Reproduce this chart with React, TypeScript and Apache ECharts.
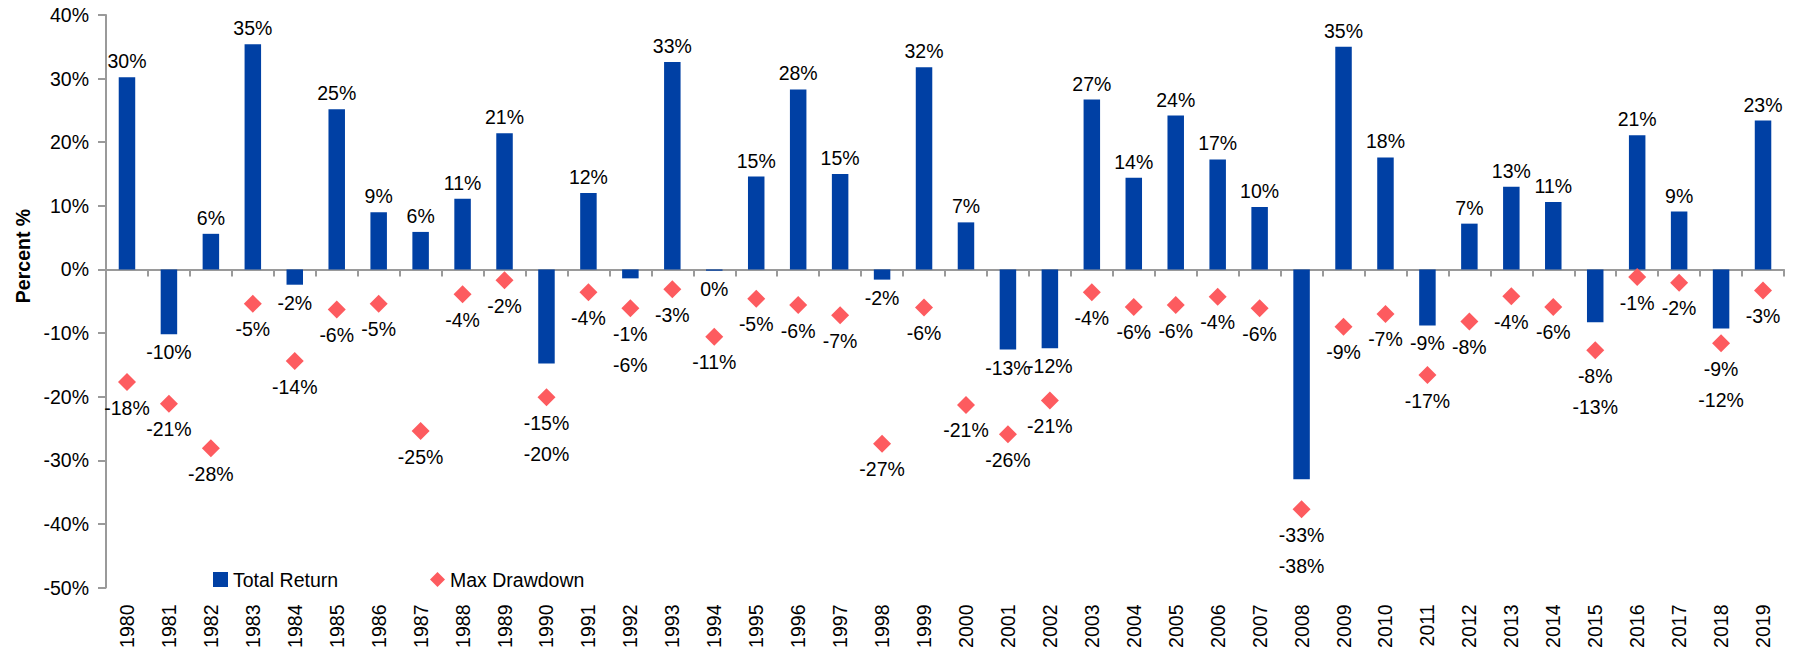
import React, { useEffect, useRef } from "react";
import * as echarts from "echarts";

const years = [
  "1980", "1981", "1982", "1983", "1984", "1985", "1986", "1987", "1988", "1989",
  "1990", "1991", "1992", "1993", "1994", "1995", "1996", "1997", "1998", "1999",
  "2000", "2001", "2002", "2003", "2004", "2005", "2006", "2007", "2008", "2009",
  "2010", "2011", "2012", "2013", "2014", "2015", "2016", "2017", "2018", "2019",
];

const totalReturn = [
  30.2, -10.2, 5.6, 35.4, -2.4, 25.2, 9.0, 5.9, 11.1, 21.4,
  -14.8, 12.0, -1.4, 32.6, -0.2, 14.6, 28.3, 15.0, -1.6, 31.8,
  7.4, -12.6, -12.4, 26.7, 14.4, 24.2, 17.3, 9.8, -33.0, 35.0,
  17.6, -8.8, 7.2, 13.0, 10.6, -8.3, 21.1, 9.1, -9.3, 23.4,
];

const maxDrawdown = [
  -17.7, -21.1, -28.1, -5.4, -14.4, -6.3, -5.4, -25.4, -3.9, -1.7,
  -20.1, -3.6, -6.1, -3.1, -10.6, -4.6, -5.6, -7.2, -27.4, -6.0,
  -21.3, -25.9, -20.6, -3.6, -5.9, -5.6, -4.3, -6.1, -37.7, -9.0,
  -7.0, -16.6, -8.2, -4.2, -5.9, -12.7, -1.2, -2.1, -11.6, -3.3,
];

const yTicks = { min: -50, max: 40, interval: 10 };

const FONT = "'Liberation Sans', Arial, sans-serif";
const FS = 19.5;
const BLUE = "#0040a4";
const RED = "#fd5b5f";
const TXT = "#000000";
const AXIS = "#9a9a9a";

const fmt = (v: number) => `${Math.round(v)}%`;
// when the drawdown marker sits right below a negative bar, the bar's label is stacked under the marker
const stacked = (i: number) => totalReturn[i] < 0 && totalReturn[i] - maxDrawdown[i] < 6;

export default function App() {
  const ref = useRef<HTMLDivElement>(null);

  useEffect(() => {
    if (!ref.current) return;
    const chart = echarts.init(ref.current, null, { renderer: "svg" });

    const barData = totalReturn.map((v, i) => ({
      value: v,
      label: {
        show: !stacked(i),
        position: v >= 0 ? "top" : "bottom",
        distance: v >= 0 ? 6 : 8,
      },
    }));

    const labelBase = {
      fontSize: FS,
      color: TXT,
      fontFamily: FONT,
      textBorderWidth: 0,
      opacity: 1,
    };

    chart.setOption({
      animation: false,
      textStyle: { fontFamily: FONT },
      grid: { left: 106, right: 12, top: 15, bottom: 72.5, containLabel: false },
      legend: [
        {
          data: [{ name: "Total Return", icon: "rect" }],
          left: 208,
          top: 564.5,
          itemWidth: 15,
          itemHeight: 15,
          textStyle: { fontSize: FS, color: TXT, fontFamily: FONT, lineHeight: 15 },
        },
        {
          data: [{ name: "Max Drawdown", icon: "diamond" }],
          left: 425,
          top: 564.5,
          itemWidth: 15,
          itemHeight: 15,
          textStyle: { fontSize: FS, color: TXT, fontFamily: FONT, lineHeight: 15 },
        },
      ],
      xAxis: [
        {
          type: "category",
          data: years,
          position: "bottom",
          axisLine: { show: false, onZero: false },
          axisTick: { show: false },
          axisLabel: {
            rotate: 90,
            margin: 17,
            fontSize: FS,
            color: TXT,
            fontFamily: FONT,
            interval: 0,
          },
        },
        {
          type: "category",
          data: years,
          position: "bottom",
          axisLine: { show: true, onZero: true, lineStyle: { color: AXIS, width: 2 } },
          axisTick: { show: true, length: 7, inside: false, lineStyle: { color: AXIS, width: 2 } },
          axisLabel: { show: false },
        },
      ],
      yAxis: {
        type: "value",
        min: yTicks.min,
        max: yTicks.max,
        interval: yTicks.interval,
        splitLine: { show: false },
        axisLine: { show: true, lineStyle: { color: AXIS, width: 2 } },
        axisTick: { show: true, length: 8, lineStyle: { color: AXIS, width: 2 } },
        axisLabel: {
          margin: 17,
          fontSize: FS,
          color: TXT,
          fontFamily: FONT,
          formatter: (v: number) => `${v}%`,
        },
      },
      graphic: [
        {
          type: "text",
          x: 23,
          y: 256,
          rotation: Math.PI / 2,
          style: {
            text: "Percent %",
            fontSize: FS,
            fontWeight: "bold",
            fontFamily: FONT,
            fill: TXT,
            align: "center",
            verticalAlign: "middle",
          },
        },
      ],
      series: [
        {
          name: "Total Return",
          type: "bar",
          xAxisIndex: 0,
          yAxisIndex: 0,
          barWidth: 16.5,
          itemStyle: { color: BLUE, opacity: 1 },
          data: barData,
          label: {
            show: true,
            lineHeight: 20,
            ...labelBase,
            formatter: (p: any) => fmt(p.value),
          },
          z: 2,
        },
        {
          name: "Max Drawdown",
          type: "scatter",
          xAxisIndex: 0,
          yAxisIndex: 0,
          symbol: "diamond",
          symbolSize: 18,
          itemStyle: { color: RED, opacity: 1 },
          data: maxDrawdown,
          label: {
            show: true,
            position: "bottom",
            distance: 1,
            lineHeight: 31,
            align: "center",
            ...labelBase,
            formatter: (p: any) =>
              stacked(p.dataIndex)
                ? `${fmt(totalReturn[p.dataIndex])}\n${fmt(p.value)}`
                : fmt(p.value),
          },
          z: 3,
        },
      ],
    });

    return () => chart.dispose();
  }, []);

  return (
    <div
      ref={ref}
      style={{ position: "absolute", left: 0, top: 0, width: 1796, height: 660 }}
    />
  );
}
